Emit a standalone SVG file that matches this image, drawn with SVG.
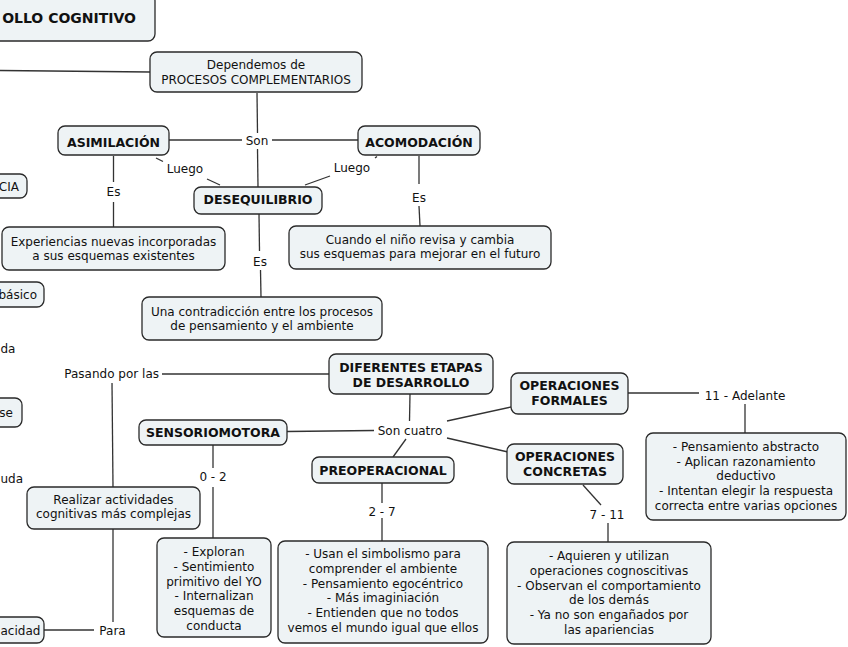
<svg xmlns="http://www.w3.org/2000/svg" width="848" height="647" viewBox="0 0 848 647">
<style>
.n rect{fill:#eef3f5;stroke:#2a2a2a;stroke-width:1.3}
text{font-family:"DejaVu Sans",Verdana,sans-serif;font-size:12px;fill:#111}
.c{text-anchor:middle}
.e{text-anchor:end}
.b{font-weight:bold;font-size:12.5px}
#connectors line{stroke:#333;stroke-width:1.3}
</style>
<rect width="848" height="647" fill="#fff"/>
<g id="connectors">
<line x1="0" y1="70.5" x2="150" y2="72"/>
<line x1="257" y1="93" x2="257.5" y2="133"/>
<line x1="169" y1="140" x2="242" y2="140"/>
<line x1="272" y1="140" x2="358" y2="140"/>
<line x1="257.5" y1="149" x2="258" y2="187"/>
<line x1="156" y1="158" x2="163" y2="161.5"/>
<line x1="207" y1="179" x2="220" y2="185"/>
<line x1="377" y1="156.5" x2="375" y2="158"/>
<line x1="330" y1="176" x2="305" y2="185"/>
<line x1="113.5" y1="156" x2="113.5" y2="182"/>
<line x1="113.5" y1="202" x2="113.5" y2="227"/>
<line x1="419" y1="156" x2="419" y2="184"/>
<line x1="419" y1="206" x2="420" y2="226"/>
<line x1="259" y1="214" x2="259.5" y2="251"/>
<line x1="260.5" y1="270" x2="261" y2="297"/>
<line x1="162" y1="374" x2="329" y2="374"/>
<line x1="112" y1="383" x2="113" y2="487"/>
<line x1="287" y1="431.5" x2="374" y2="430.5"/>
<line x1="410" y1="394" x2="409.5" y2="421"/>
<line x1="406" y1="439" x2="393" y2="457"/>
<line x1="447" y1="421" x2="511" y2="407"/>
<line x1="447" y1="438" x2="508" y2="452"/>
<line x1="628" y1="393" x2="699" y2="393"/>
<line x1="745" y1="404" x2="745" y2="433"/>
<line x1="213" y1="445" x2="213" y2="468"/>
<line x1="213" y1="487" x2="213" y2="538"/>
<line x1="382" y1="483" x2="382" y2="503"/>
<line x1="382" y1="518" x2="382" y2="541"/>
<line x1="583" y1="485" x2="601" y2="505"/>
<line x1="608" y1="523" x2="608" y2="542"/>
<line x1="113" y1="529" x2="113" y2="622"/>
<line x1="44" y1="630" x2="94" y2="630"/>
</g>
<g id="labels">
<text class="c" x="257" y="144.5">Son</text>
<text class="c" x="185" y="172.5">Luego</text>
<text class="c" x="352" y="171.5">Luego</text>
<text class="c" x="113.5" y="196">Es</text>
<text class="c" x="419" y="202">Es</text>
<text class="c" x="260" y="266">Es</text>
<text class="e" x="159" y="377.5">Pasando por las</text>
<text class="c" x="410" y="434.5">Son cuatro</text>
<text class="c" x="745" y="399.5">11 - Adelante</text>
<text class="c" x="213" y="480.5">0 - 2</text>
<text class="c" x="382" y="515.5">2 - 7</text>
<text class="c" x="607" y="518.5">7 - 11</text>
<text class="c" x="112.5" y="634.5">Para</text>
<text x="0.5" y="353">da</text>
<text x="0.5" y="483">uda</text>
</g>
<g id="n-title" class="n"><rect x="-20" y="-6" width="175" height="47" rx="7"/><text class="e b" x="136" y="23" style="font-size:14px">OLLO COGNITIVO</text></g>
<g id="n-procesos" class="n"><rect x="150" y="52" width="212" height="40" rx="7"/><text class="c" x="256" y="68.5">Dependemos de</text><text class="c" x="256" y="83.5">PROCESOS COMPLEMENTARIOS</text></g>
<g id="n-asimilacion" class="n"><rect x="58" y="126" width="111" height="29" rx="7"/><text class="c b" x="113.5" y="146.5">ASIMILACIÓN</text></g>
<g id="n-acomodacion" class="n"><rect x="358" y="126" width="122" height="29" rx="7"/><text class="c b" x="419" y="146.5">ACOMODACIÓN</text></g>
<g id="n-desequilibrio" class="n"><rect x="194" y="187" width="128" height="27" rx="7"/><text class="c b" x="258" y="204">DESEQUILIBRIO</text></g>
<g id="n-experiencias" class="n"><rect x="2" y="227" width="223" height="43" rx="7"/><text class="c" x="113.5" y="245.5">Experiencias nuevas incorporadas</text><text class="c" x="113.5" y="260">a sus esquemas existentes</text></g>
<g id="n-cuando" class="n"><rect x="289" y="226" width="262" height="43" rx="7"/><text class="c" x="420" y="243.5">Cuando el niño revisa y cambia</text><text class="c" x="420" y="258">sus esquemas para mejorar en el futuro</text></g>
<g id="n-contradiccion" class="n"><rect x="142" y="297" width="240" height="43" rx="7"/><text class="c" x="262" y="315.5">Una contradicción entre los procesos</text><text class="c" x="262" y="330">de pensamiento y el ambiente</text></g>
<g id="n-cia" class="n"><rect x="-20" y="174" width="47" height="24" rx="7"/><text class="e" x="19" y="190.5">CIA</text></g>
<g id="n-basico" class="n"><rect x="-20" y="282" width="64" height="25" rx="7"/><text class="e" x="37" y="299">básico</text></g>
<g id="n-se" class="n"><rect x="-20" y="398" width="42" height="29" rx="7"/><text class="e" x="13" y="417">se</text></g>
<g id="n-acidad" class="n"><rect x="-20" y="617" width="64" height="26" rx="7"/><text x="0.5" y="634.5">acidad</text></g>
<g id="n-etapas" class="n"><rect x="329" y="354" width="164" height="40" rx="7"/><text class="c b" x="411" y="371.5">DIFERENTES ETAPAS</text><text class="c b" x="411" y="386.5">DE DESARROLLO</text></g>
<g id="n-sensoriomotora" class="n"><rect x="139" y="420" width="148" height="25" rx="7"/><text class="c b" x="213" y="437">SENSORIOMOTORA</text></g>
<g id="n-preoperacional" class="n"><rect x="312" y="457" width="142" height="26" rx="7"/><text class="c b" x="383" y="474.5">PREOPERACIONAL</text></g>
<g id="n-formales" class="n"><rect x="511" y="373" width="117" height="41" rx="7"/><text class="c b" x="569.5" y="389.5">OPERACIONES</text><text class="c b" x="569.5" y="404.5">FORMALES</text></g>
<g id="n-concretas" class="n"><rect x="507" y="444" width="116" height="40" rx="7"/><text class="c b" x="565" y="460.5">OPERACIONES</text><text class="c b" x="565" y="475.5">CONCRETAS</text></g>
<g id="n-realizar" class="n"><rect x="27" y="487" width="173" height="42" rx="7"/><text class="c" x="113.5" y="503.5">Realizar actividades</text><text class="c" x="113.5" y="518">cognitivas más complejas</text></g>
<g id="n-abstracto" class="n"><rect x="646" y="433" width="200" height="87" rx="7"/><text class="c" x="746" y="450.5">- Pensamiento abstracto</text><text class="c" x="746" y="465.5">- Aplican razonamiento</text><text class="c" x="746" y="480">deductivo</text><text class="c" x="746" y="495">- Intentan elegir la respuesta</text><text class="c" x="746" y="510">correcta entre varias opciones</text></g>
<g id="n-exploran" class="n"><rect x="157" y="538" width="114" height="99" rx="7"/><text class="c" x="214" y="556">- Exploran</text><text class="c" x="214" y="571">- Sentimiento</text><text class="c" x="214" y="585.5">primitivo del YO</text><text class="c" x="214" y="600">- Internalizan</text><text class="c" x="214" y="615">esquemas de</text><text class="c" x="214" y="629.5">conducta</text></g>
<g id="n-simbolismo" class="n"><rect x="278" y="541" width="210" height="102" rx="7"/><text class="c" x="383" y="557.5">- Usan el simbolismo para</text><text class="c" x="383" y="572.5">comprender el ambiente</text><text class="c" x="383" y="587.5">- Pensamiento egocéntrico</text><text class="c" x="383" y="602">- Más imaginiación</text><text class="c" x="383" y="617">- Entienden que no todos</text><text class="c" x="383" y="632">vemos el mundo igual que ellos</text></g>
<g id="n-aquieren" class="n"><rect x="507" y="542" width="204" height="102" rx="7"/><text class="c" x="609" y="559.5">- Aquieren y utilizan</text><text class="c" x="609" y="574.5">operaciones cognoscitivas</text><text class="c" x="609" y="589.5">- Observan el comportamiento</text><text class="c" x="609" y="604">de los demás</text><text class="c" x="609" y="619">- Ya no son engañados por</text><text class="c" x="609" y="634">las apariencias</text></g>
</svg>
